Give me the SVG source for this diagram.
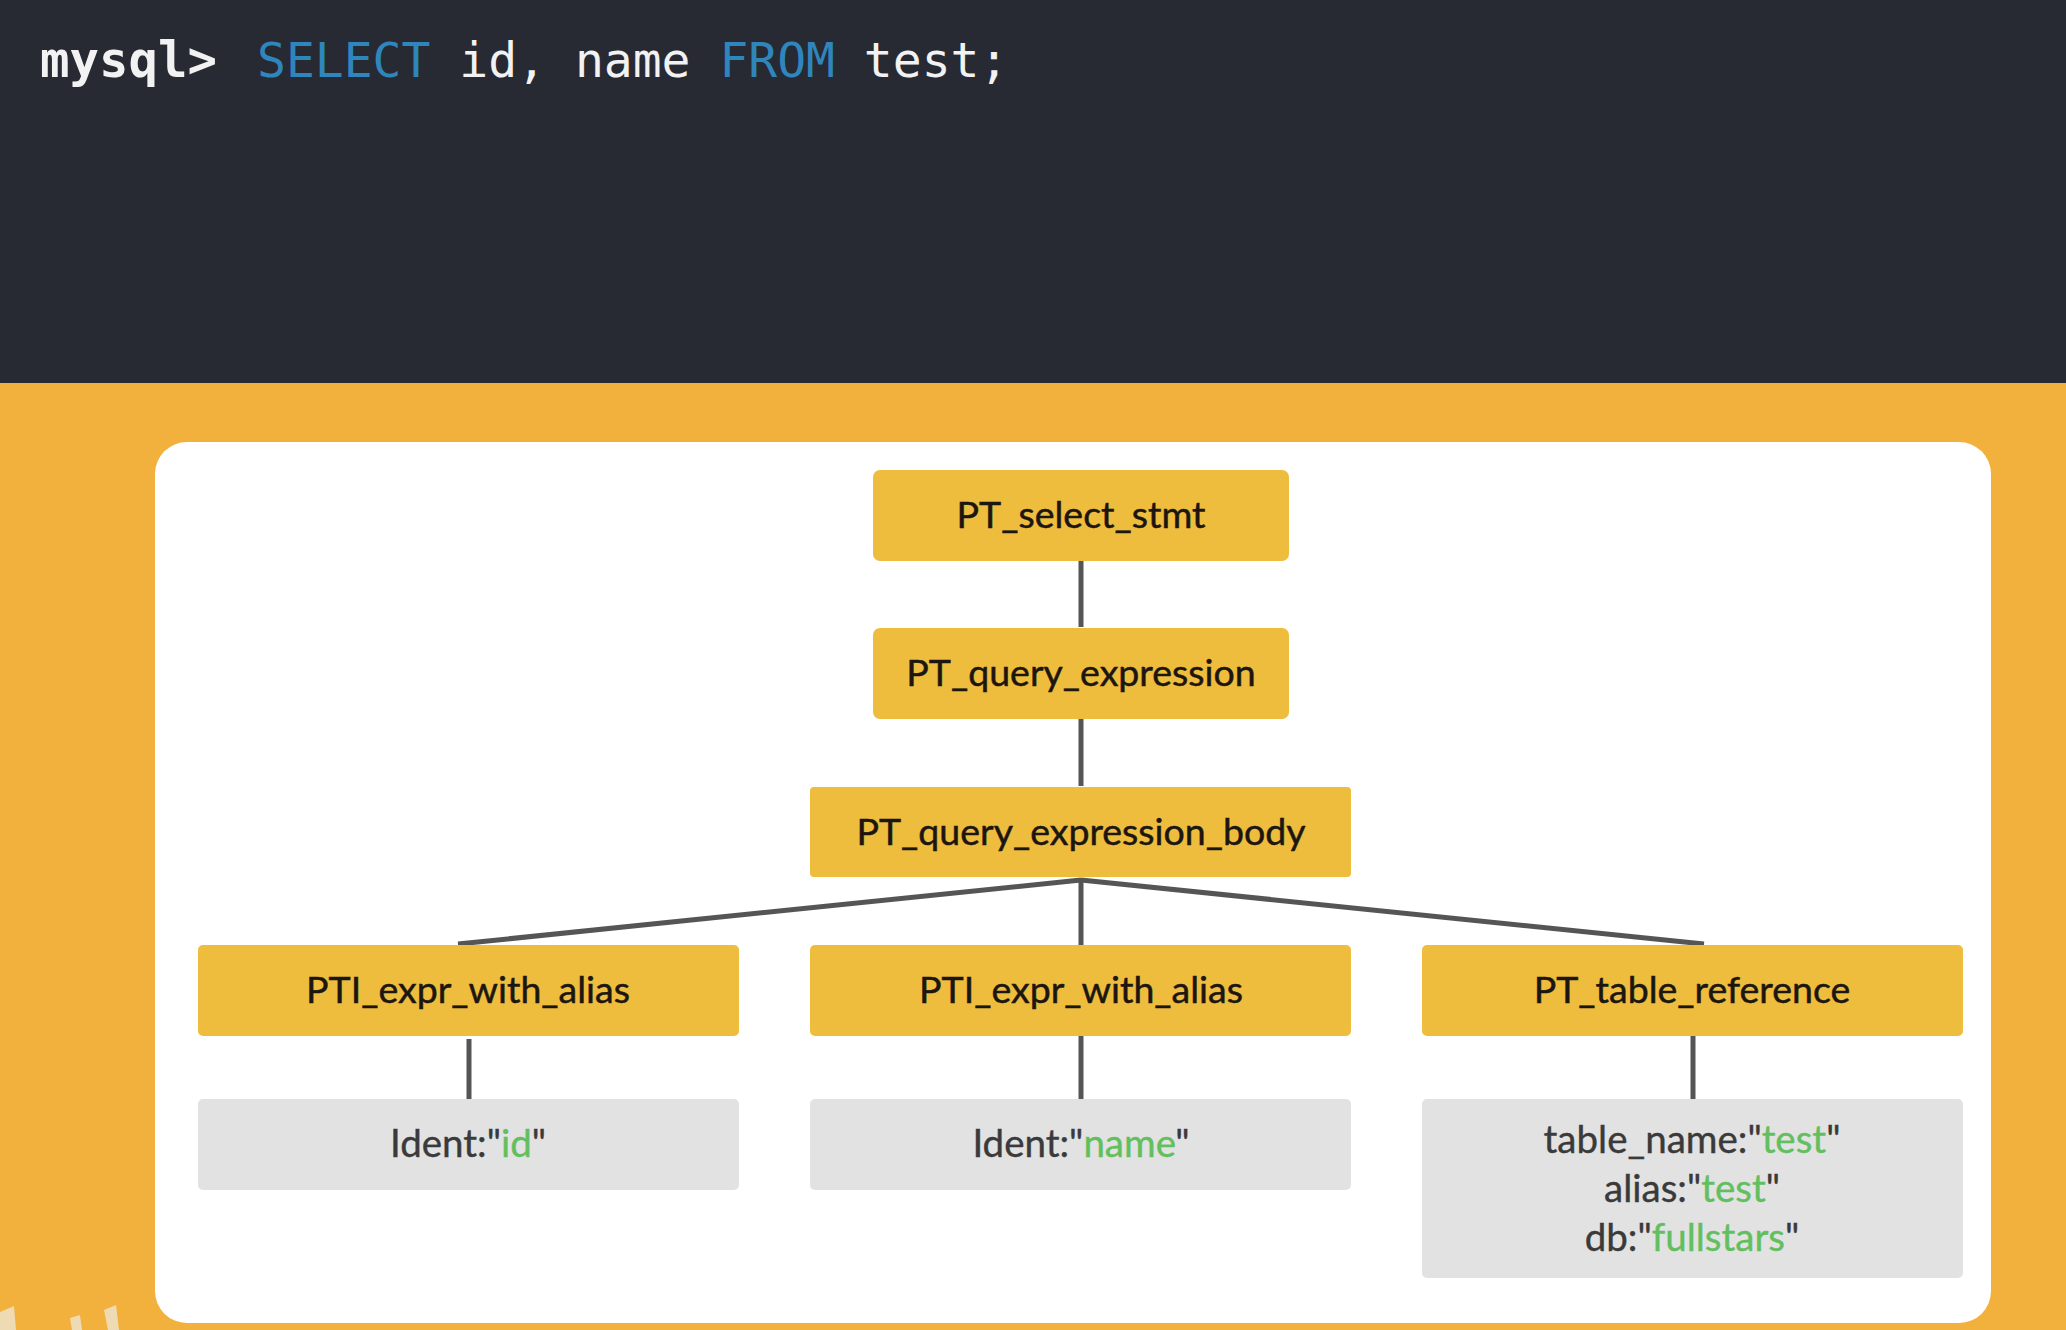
<svg xmlns="http://www.w3.org/2000/svg" width="2066" height="1330" viewBox="0 0 2066 1330">
<style>
.cmd{font-family:"DejaVu Sans Mono","Liberation Mono",monospace;font-size:48px;fill:#f2f2f2}
.prompt{font-weight:bold;font-size:49px}
.kw{fill:#2f86bd}
.node rect.y{fill:#eebd3e}
.node rect.g{fill:#e2e2e2}
.lbl{font-family:Lato,"Open Sans","Liberation Sans",sans-serif;font-size:37.5px;fill:#1c1610;stroke:#1c1610;stroke-width:0.5;text-anchor:middle}
.gl{font-family:Lato,"Open Sans","Liberation Sans",sans-serif;font-size:38.5px;fill:#3a3a3a;stroke:#3a3a3a;stroke-width:0.4;text-anchor:middle}
.grn{fill:#62bf5e;stroke:#62bf5e}
.conn line{stroke:#555;stroke-width:5;stroke-linecap:butt}
</style>
<rect x="0" y="0" width="2066" height="383" fill="#272a33"/>
<rect x="0" y="383" width="2066" height="947" fill="#f2b13c"/>
<g id="artifacts" fill="#efe3c8" opacity="0.85">
<polygon points="0,1312 14,1306 16,1330 0,1330"/>
<polygon points="70,1318 80,1315 82,1330 72,1330"/>
<polygon points="104,1310 116,1305 119,1330 108,1330"/>
</g>
<rect x="155" y="442" width="1836" height="881" rx="32" fill="#ffffff"/>
<text class="cmd prompt" x="40" y="77">mysql&gt;</text>
<text class="cmd" x="257" y="77"><tspan class="kw">SELECT</tspan> id, name <tspan class="kw">FROM</tspan> test;</text>
<g class="conn" id="connectors">
<line x1="1081" y1="561" x2="1081" y2="627"/>
<line x1="1081" y1="719" x2="1081" y2="786"/>
<line x1="1081" y1="878" x2="1081" y2="945"/>
<line x1="1081" y1="880" x2="458" y2="944"/>
<line x1="1081" y1="880" x2="1704" y2="944"/>
<line x1="469" y1="1039" x2="469" y2="1099"/>
<line x1="1081" y1="1036" x2="1081" y2="1099"/>
<line x1="1693" y1="1036" x2="1693" y2="1099"/>
</g>
<g class="node" id="n_select_stmt">
<rect class="y" x="873" y="470" width="416" height="91" rx="7"/>
<text class="lbl" x="1081" y="528">PT_select_stmt</text>
</g>
<g class="node" id="n_query_expression">
<rect class="y" x="873" y="628" width="416" height="91" rx="7"/>
<text class="lbl" x="1081" y="686">PT_query_expression</text>
</g>
<g class="node" id="n_query_expression_body">
<rect class="y" x="810" y="787" width="541" height="90" rx="4"/>
<text class="lbl" x="1081" y="845">PT_query_expression_body</text>
</g>
<g class="node" id="n_expr1">
<rect class="y" x="198" y="945" width="541" height="91" rx="5"/>
<text class="lbl" x="468" y="1003">PTI_expr_with_alias</text>
</g>
<g class="node" id="n_expr2">
<rect class="y" x="810" y="945" width="541" height="91" rx="5"/>
<text class="lbl" x="1081" y="1003">PTI_expr_with_alias</text>
</g>
<g class="node" id="n_table_ref">
<rect class="y" x="1422" y="945" width="541" height="91" rx="5"/>
<text class="lbl" x="1692" y="1003">PT_table_reference</text>
</g>
<g class="node" id="n_ident_id">
<rect class="g" x="198" y="1099" width="541" height="91" rx="5"/>
<text class="gl" x="468" y="1157">Ident:"<tspan class="grn">id</tspan>"</text>
</g>
<g class="node" id="n_ident_name">
<rect class="g" x="810" y="1099" width="541" height="91" rx="5"/>
<text class="gl" x="1081" y="1157">Ident:"<tspan class="grn">name</tspan>"</text>
</g>
<g class="node" id="n_table_info">
<rect class="g" x="1422" y="1099" width="541" height="179" rx="5"/>
<text class="gl" x="1692" y="1153">table_name:"<tspan class="grn">test</tspan>"</text>
<text class="gl" x="1692" y="1202">alias:"<tspan class="grn">test</tspan>"</text>
<text class="gl" x="1692" y="1251">db:"<tspan class="grn">fullstars</tspan>"</text>
</g>
</svg>
